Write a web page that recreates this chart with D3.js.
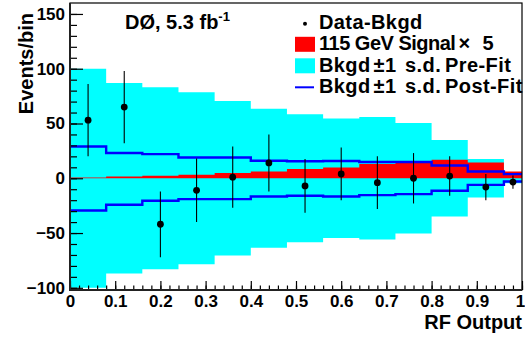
<!DOCTYPE html>
<html>
<head>
<meta charset="utf-8">
<script src="https://cdn.jsdelivr.net/npm/d3@7"></script>
<style>
  body { margin: 0; background: #fff; }
  text { font-family: "Liberation Sans", Arial, sans-serif; font-weight: bold; }
</style>
</head>
<body>
<script>
// Bin edges of the RF output histogram (13 bins)
var binEdges = [0, 0.08, 0.16, 0.24, 0.32, 0.40, 0.48, 0.56, 0.64, 0.72, 0.80, 0.88, 0.96, 1.0]
var binCenters = [0.04, 0.12, 0.20, 0.28, 0.36, 0.44, 0.52, 0.60, 0.68, 0.76, 0.84, 0.92, 0.98]

var dataBkgd = [53, 65, -42, -11, 1, 14, -7, 4, -4, 0, 2, -8, -3.5]
var dataErr = [33, 33, 30, 29, 28, 26, 24.5, 24, 24, 23, 18, 12, 6]
var signalX5 = [0.7, 1.6, 2.3, 3.2, 4.7, 6.2, 8.4, 9.9, 13, 14.8, 16.9, 14.4, 6.2]
var preFit = [100, 87, 83, 78.5, 70.5, 63.5, 58.5, 54.5, 56, 50.5, 35, 17.5, 4.5]
var postFitUp = [29, 23, 22, 19, 19, 16, 15.5, 15.7, 14.8, 14.8, 11.7, 6.2, 3.8]
var postFitDown = [-29.4, -24.2, -20.5, -19, -19, -16.6, -16, -16.6, -15.4, -14.5, -11.4, -6, -2.9]

var xTicks = [0, 0.1, 0.2, 0.3, 0.4, 0.5, 0.6, 0.7, 0.8, 0.9, 1]
var yTicks = [-100, -50, 0, 50, 100, 150]

var W = 525, H = 343
var pL = 70, pR = 522, pT = 3, pB = 290     // plot frame

var svg = d3.select("body").append("svg")
    .attr("width", W)
    .attr("height", H)

var x = d3.scaleLinear().domain([0, 1]).range([pL, pR])
var y = d3.scaleLinear().domain([-102, 160]).range([pB, pT])

// histogram helper: one point per edge, last value repeated
function steps(vals) {
    return binEdges.map((e, i) => ({ x: e, v: vals[Math.min(i, vals.length - 1)] }))
}

var plot = svg.append("g")

// Pre-fit band (cyan)
var bandArea = d3.area()
    .curve(d3.curveStepAfter)
    .x(d => x(d.x))
    .y0(d => y(-d.v))
    .y1(d => y(d.v))

plot.append("path")
    .datum(steps(preFit))
    .attr("d", bandArea)
    .attr("fill", "#00ffff")

// Signal x5 (red)
var sigArea = d3.area()
    .curve(d3.curveStepAfter)
    .x(d => x(d.x))
    .y0(y(0))
    .y1(d => y(d.v))

plot.append("path")
    .datum(steps(signalX5))
    .attr("d", sigArea)
    .attr("fill", "#ff0000")

// Post-fit lines (blue)
var stepLine = d3.line()
    .curve(d3.curveStepAfter)
    .x(d => x(d.x))
    .y(d => y(d.v))

;[postFitUp, postFitDown].forEach(function(s) {
    plot.append("path")
        .datum(steps(s))
        .attr("d", stepLine)
        .attr("fill", "none")
        .attr("stroke", "#0000ff")
        .attr("stroke-width", 2.4)
})

// Data - background points with error bars
var pts = binCenters.map((c, i) => ({ x: c, v: dataBkgd[i], e: dataErr[i] }))

plot.append("g").selectAll("line")
    .data(pts)
    .enter()
    .append("line")
    .attr("x1", d => x(d.x))
    .attr("x2", d => x(d.x))
    .attr("y1", d => y(d.v - d.e))
    .attr("y2", d => y(d.v + d.e))
    .attr("stroke", "#000")
    .attr("stroke-width", 1.1)

plot.append("g").selectAll("circle")
    .data(pts)
    .enter()
    .append("circle")
    .attr("cx", d => x(d.x))
    .attr("cy", d => y(d.v))
    .attr("r", 3.4)
    .attr("fill", "#000")

// Axes (ticks pointing inward)
var yAxis = svg.append("g")
    .attr("transform", "translate(" + pL + ",0)")
    .call(d3.axisLeft(y).tickValues(yTicks).tickSize(-13).tickPadding(5).tickFormat(d3.format("d")))
yAxis.append("g")
    .call(d3.axisLeft(y).tickValues(d3.range(-100, 151, 10)).tickSize(-7).tickFormat(""))

var xAxis = svg.append("g")
    .attr("transform", "translate(0," + pB + ")")
    .call(d3.axisBottom(x).tickValues(xTicks).tickSize(-9).tickPadding(5)
        .tickFormat(d => (d === 0 || d === 1) ? String(d) : d.toFixed(1)))
xAxis.append("g")
    .call(d3.axisBottom(x).tickValues(d3.range(0, 51).map(i => i * 0.02)).tickSize(-4.5).tickFormat(""))

svg.selectAll(".domain").remove()
svg.selectAll(".tick line").attr("stroke", "#000").attr("stroke-width", 1.2)
svg.selectAll(".tick text")
    .attr("fill", "#000")
    .style("font-size", "17px")
    .style("font-family", "'Liberation Sans', Arial, sans-serif")
    .style("font-weight", "bold")
xAxis.selectAll(".tick text").filter(d => d === 1).attr("dx", -2)   // keep "1" inside the window

// Frame
svg.append("rect")
    .attr("x", pL)
    .attr("y", pT)
    .attr("width", pR - pL)
    .attr("height", pB - pT)
    .attr("fill", "none")
    .attr("stroke", "#000")
    .attr("stroke-width", 1.2)
svg.append("path")
    .attr("d", "M" + pL + "," + pT + "V" + pB + "H" + pR)
    .attr("fill", "none")
    .attr("stroke", "#222")
    .attr("stroke-width", 2)

// Axis titles
svg.append("text")
    .attr("transform", "translate(33,13) rotate(-90)")
    .attr("text-anchor", "end")
    .style("font-size", "20px")
    .text("Events/bin")

svg.append("text")
    .attr("x", pR)
    .attr("y", 329)
    .attr("text-anchor", "end")
    .style("font-size", "20px")
    .text("RF Output")

// Experiment label
var lab = svg.append("text")
    .attr("x", 125)
    .attr("y", 28.5)
    .style("font-size", "20px")
lab.append("tspan").text("DØ, 5.3 fb")
lab.append("tspan").attr("dy", -8).style("font-size", "13px").text("-1")

// Legend
var legX = 319
var legRows = [
    { type: "dot", base: 28.5 },
    { type: "red", base: 50 },
    { type: "cyan", base: 71.5 },
    { type: "line", base: 93 }
]
var leg = svg.append("g")
legRows.forEach(function(r) {
    var cy = r.base - 5.7
    if (r.type === "dot")
        leg.append("circle").attr("cx", 305).attr("cy", cy + 1).attr("r", 2).attr("fill", "#000")
    if (r.type === "red" || r.type === "cyan")
        leg.append("rect").attr("x", 295).attr("y", cy - 7.5).attr("width", 20).attr("height", 15)
            .attr("fill", r.type === "red" ? "#ff0000" : "#00ffff")
    if (r.type === "line")
        leg.append("line").attr("x1", 295).attr("x2", 314).attr("y1", cy).attr("y2", cy)
            .attr("stroke", "#0000ff").attr("stroke-width", 2)
})

function legText(base, spacing, parts) {
    var t = leg.append("text").attr("x", legX).attr("y", base)
        .style("font-size", "20px")
        .style("letter-spacing", spacing + "px")
    parts.forEach(p => t.append("tspan").attr("dx", p[1]).text(p[0]))
}
legText(28.5, 0.4, [["Data-Bkgd", 0]])
legText(50, -0.5, [["115 GeV Signal", 0], ["×", 3], ["5", 13]])
legText(71.5, 0.4, [["Bkgd", 0], ["±", 3], ["1", 0], ["s.d.", 8.5], ["Pre-Fit", 4]])
legText(93, 0.4, [["Bkgd", 0], ["±", 3], ["1", 0], ["s.d.", 8.5], ["Post-Fit", 4]])
</script>
</body>
</html>
